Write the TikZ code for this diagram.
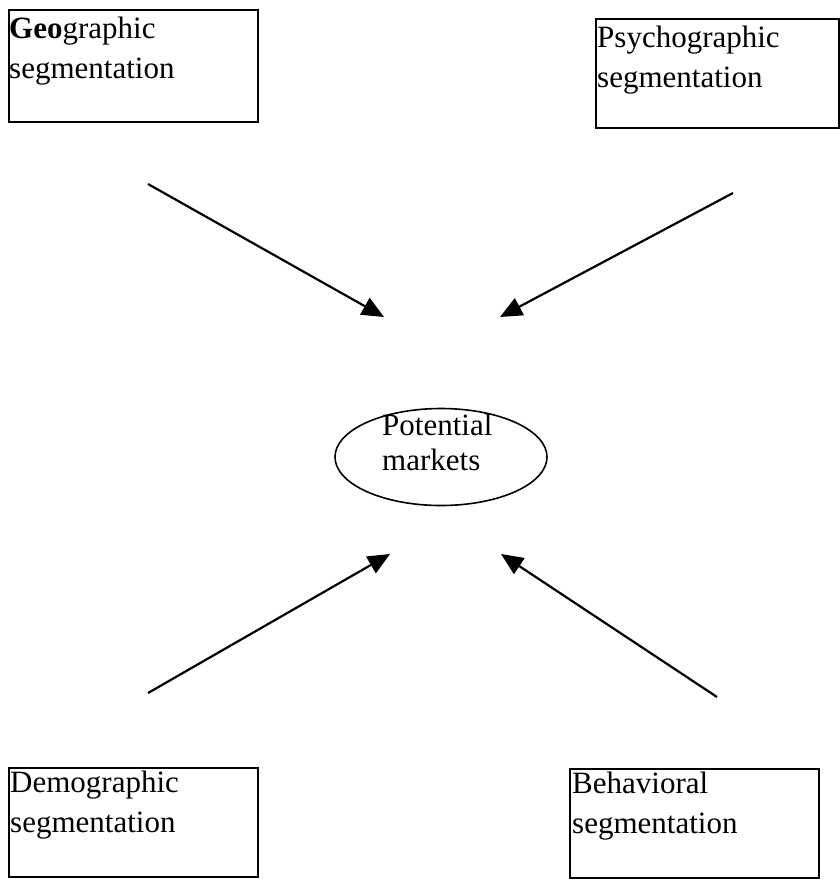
\documentclass[tikz,border=0pt]{standalone}
\usepackage{fontspec}
\setmainfont{Liberation Serif}
\usetikzlibrary{shapes.geometric,arrows.meta}

\tikzset{
  segbox/.style={draw, line width=1.6pt, rectangle, inner sep=0pt, anchor=north west},
  label/.style={anchor=base west, inner sep=0pt, font=\fontsize{31}{31}\selectfont},
  centre/.style={draw, line width=1.6pt, ellipse, inner sep=0pt,
                 minimum width=212pt, minimum height=97pt},
  feed/.style={line width=2.2pt, -{Triangle[length=22pt,width=19pt]}}
}

\begin{document}
\begin{tikzpicture}[x=1pt,y=-1pt]
\useasboundingbox (0,0) rectangle (840,879);

% segmentation boxes
\node[segbox, minimum width=249pt, minimum height=112pt] (geo) at (8,9) {};
\node[segbox, minimum width=243pt, minimum height=109pt] (psy) at (595,18) {};
\node[segbox, minimum width=249pt, minimum height=109pt] (dem) at (8,767) {};
\node[segbox, minimum width=249pt, minimum height=109pt] (beh) at (569,768) {};

\node[label] (geo1) at (9,38) {\textbf{Geo}graphic};
\node[label] (geo2) at (9,78) {segmentation};
\node[label] (psy1) at (597,47) {Psychographic};
\node[label] (psy2) at (597,87) {segmentation};
\node[label] (dem1) at (10,792) {Demographic};
\node[label] (dem2) at (10,832) {segmentation};
\node[label] (beh1) at (572,793) {Behavioral};
\node[label] (beh2) at (572,833) {segmentation};

% central ellipse
\node[centre] (pot) at (441,457) {};
\node[label] (pot1) at (382,435) {Potential};
\node[label] (pot2) at (382,470) {markets};

% arrow end points
\coordinate (g0) at (148,184);  \coordinate (g1) at (384,317);
\coordinate (p0) at (733,193);  \coordinate (p1) at (500,317);
\coordinate (d0) at (148,693);  \coordinate (d1) at (390,554);
\coordinate (b0) at (717,697);  \coordinate (b1) at (501,554);

\draw[feed] (g0) -- (g1);
\draw[feed] (p0) -- (p1);
\draw[feed] (d0) -- (d1);
\draw[feed] (b0) -- (b1);
\end{tikzpicture}
\end{document}
